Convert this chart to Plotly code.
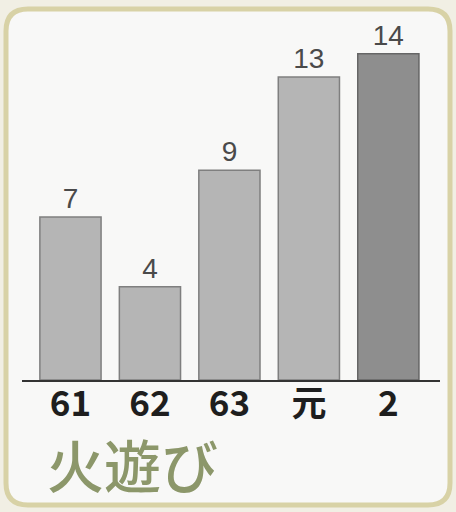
import plotly.graph_objects as go

categories = ["61", "62", "63", "元", "2"]
values = [7, 4, 9, 13, 14]
bar_colors = ["#b5b5b5", "#b5b5b5", "#b5b5b5", "#b5b5b5", "#8e8e8e"]
line_colors = ["#7f7f7f", "#7f7f7f", "#7f7f7f", "#7f7f7f", "#666666"]
title_text = "火遊び"

W, H = 456, 512
L = 22
T = 20
B = H - 380
R = W - 440
pw, ph = W - L - R, H - T - B


def px(x):
    return (x - L) / pw


def py(y):
    return (H - B - y) / ph


fig = go.Figure()
fig.add_trace(go.Bar(
    x=list(range(len(categories))),
    y=values,
    text=[str(v) for v in values],
    textposition="outside",
    textfont=dict(family="Liberation Sans", size=28, color="#4a4a4a"),
    cliponaxis=False,
    marker=dict(color=bar_colors, line=dict(color=line_colors, width=1.5)),
    width=0.77,
))

# rounded border
x0, x1, y0, y1, r = 6, 450, 9, 505, 22
path = (
    f"M {px(x0 + r)} {py(y0)} L {px(x1 - r)} {py(y0)} "
    f"Q {px(x1)} {py(y0)} {px(x1)} {py(y0 + r)} "
    f"L {px(x1)} {py(y1 - r)} Q {px(x1)} {py(y1)} {px(x1 - r)} {py(y1)} "
    f"L {px(x0 + r)} {py(y1)} Q {px(x0)} {py(y1)} {px(x0)} {py(y1 - r)} "
    f"L {px(x0)} {py(y0 + r)} Q {px(x0)} {py(y0)} {px(x0 + r)} {py(y0)} Z"
)
fig.add_shape(type="path", path=path, xref="paper", yref="paper",
              line=dict(color="#d8d2a6", width=5), fillcolor="#f8f8f7", layer="below")

fig.add_annotation(text=title_text, xref="paper", yref="paper",
                   x=px(45), y=py(463), xanchor="left", yanchor="middle",
                   showarrow=False,
                   font=dict(family="Noto Sans CJK JP", size=57, color="#8c976a",
                             weight=500))

fig.update_layout(
    width=W, height=H,
    margin=dict(l=L, r=R, t=T, b=B, autoexpand=False),
    paper_bgcolor="#f1efe4",
    plot_bgcolor="rgba(0,0,0,0)",
    showlegend=False,
    xaxis=dict(
        range=[-0.61, 4.65],
        tickmode="array",
        tickvals=list(range(len(categories))),
        ticktext=categories,
        tickfont=dict(family="Noto Sans CJK JP", size=35, color="#1e1e1e", weight="bold"),
        showline=True, linecolor="#333333", linewidth=1.5,
        showgrid=False, zeroline=False, ticks="",
        ticklabelstandoff=-8,
        automargin=False,
    ),
    yaxis=dict(range=[0, 15.45], visible=False, showgrid=False, zeroline=False),
)

fig.write_html(
    "out.html",
    config={"displayModeBar": False},
    post_script="document.body.style.margin='0';document.body.style.background='#f1efe4';",
)
